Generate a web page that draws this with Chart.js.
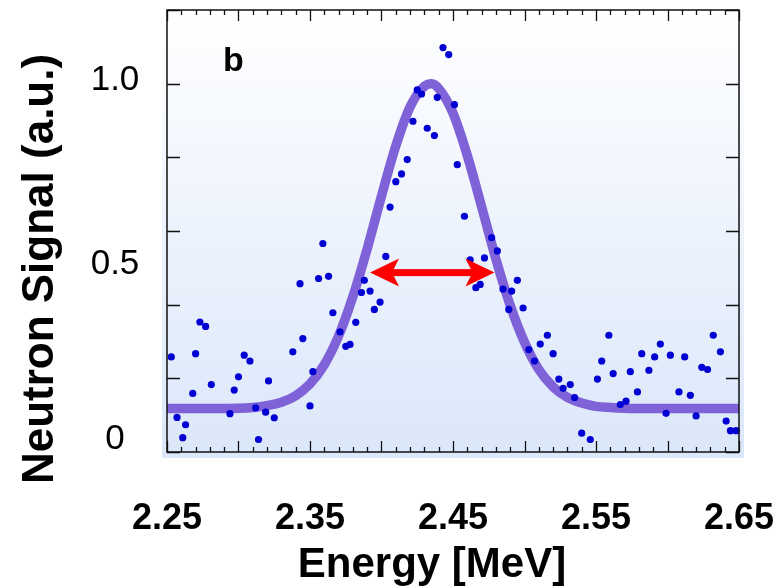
<!DOCTYPE html>
<html>
<head>
<meta charset="utf-8">
<script src="https://cdn.jsdelivr.net/npm/chart.js@4.4.1/dist/chart.umd.min.js"></script>
<style>
  body { margin: 0; background: #fff; }
  #grafica_neutrones { display: block; }
</style>
</head>
<body>
<canvas id="grafica_neutrones" width="776" height="588"></canvas>
<script>
// puntos medidos
const energia = [2.253,2.257,2.263,2.261,2.268,2.270,2.273,2.277,2.281,2.294,
  2.297,2.300,2.304,2.308,2.312,2.314,2.319,2.321,2.325,2.338,
  2.345,2.343,2.350,2.352,2.356,2.363,2.359,2.366,2.371,2.375,
  2.378,2.382,2.386,2.388,2.392,2.395,2.399,2.403,2.406,2.410,
  2.414,2.418,2.422,2.425,2.428,2.432,2.437,2.439,2.443,2.447,
  2.451,2.453,2.458,2.462,2.466,2.469,2.472,2.477,2.481,2.485,
  2.489,2.491,2.495,2.499,2.503,2.507,2.511,2.516,2.520,2.524,
  2.527,2.532,2.535,2.540,2.546,2.551,2.554,2.559,2.562,2.567,
  2.571,2.574,2.579,2.582,2.587,2.591,2.595,2.599,2.602,2.608,
  2.612,2.616,2.620,2.624,2.628,2.632,2.637,2.641,2.644,2.648];
const senal = [0.258,0.094,0.074,0.039,0.159,0.267,0.353,0.341,0.183,0.104,
  0.168,0.204,0.263,0.247,0.120,0.034,0.108,0.193,0.093,0.272,
  0.308,0.457,0.125,0.218,0.471,0.477,0.566,0.378,0.326,0.287,
  0.292,0.352,0.433,0.466,0.437,0.387,0.407,0.531,0.665,0.734,
  0.755,0.794,0.898,0.983,0.972,0.879,0.859,0.963,1.098,1.079,
  0.943,0.780,0.640,0.522,0.446,0.455,0.527,0.582,0.546,0.442,
  0.387,0.437,0.466,0.391,0.278,0.247,0.293,0.317,0.267,0.198,
  0.173,0.183,0.148,0.051,0.034,0.198,0.247,0.317,0.213,0.129,
  0.138,0.218,0.163,0.267,0.222,0.258,0.293,0.105,0.263,0.163,
  0.258,0.154,0.098,0.230,0.224,0.317,0.272,0.084,0.058,0.058];

// curva ajustada
const ajusteEnergia = [2.25,2.30,2.31,2.32,2.33,2.34,2.35,2.36,2.37,2.38,2.39,2.40,2.41,2.42,2.43,2.435,
  2.44,2.45,2.46,2.47,2.48,2.49,2.50,2.51,2.52,2.53,2.54,2.55,2.56,2.57,2.58,2.65];
const ajusteSenal = [0.118,0.119,0.121,0.126,0.135,0.153,0.185,0.237,0.315,0.422,0.552,0.695,0.831,0.937,0.993,1.0,
  0.987,0.920,0.805,0.666,0.524,0.398,0.298,0.224,0.177,0.148,0.133,0.124,0.121,0.119,0.118,0.118];

// flecha FWHM
const flechaEnergia = [2.392, 2.479];
const flechaSenal = 0.487;

const etiquetasX = [2.25, 2.35, 2.45, 2.55, 2.65];
const etiquetasY = [0, 0.5, 1.0];

const FUENTE = "'Liberation Sans', Arial, sans-serif";

const pluginDecoracion = {
  id: 'decoracion',
  beforeDatasetsDraw(chart) {
    const { ctx, chartArea: a } = chart;
    ctx.save();
    const grad = ctx.createLinearGradient(0, a.top, 0, a.bottom);
    grad.addColorStop(0, '#ffffff');
    grad.addColorStop(1, '#dbe7fa');
    ctx.fillStyle = grad;
    ctx.fillRect(a.left - 5, a.top - 5, a.right - a.left + 10, a.bottom - a.top + 11);
    ctx.restore();
  },
  afterDatasetsDraw(chart) {
    const { ctx, chartArea: a, scales: { x, y } } = chart;
    ctx.save();

    // flecha roja
    const ya = y.getPixelForValue(flechaSenal);
    const x1 = x.getPixelForValue(flechaEnergia[0]);
    const x2 = x.getPixelForValue(flechaEnergia[1]);
    ctx.fillStyle = '#ff0000';
    ctx.fillRect(x1 + 20, ya - 3.5, x2 - x1 - 40, 7);
    [[x1, 1], [x2, -1]].forEach(([xt, d]) => {
      ctx.beginPath();
      ctx.moveTo(xt, ya);
      ctx.lineTo(xt + d * 29, ya - 14);
      ctx.lineTo(xt + d * 22, ya);
      ctx.lineTo(xt + d * 29, ya + 14);
      ctx.closePath();
      ctx.fill();
    });

    // marco y marcas
    ctx.strokeStyle = '#111';
    ctx.lineWidth = 1.5;
    ctx.strokeRect(a.left, a.top, a.right - a.left, a.bottom - a.top);
    ctx.lineWidth = 1.3;
    ctx.beginPath();
    for (let i = 0; i <= 40; i++) {
      const v = 2.25 + i * 0.01;
      const px = Math.round(x.getPixelForValue(v)) + 0.5;
      const len = i % 5 === 0 ? 11 : 5;
      ctx.moveTo(px, a.bottom); ctx.lineTo(px, a.bottom - len);
      ctx.moveTo(px, a.top); ctx.lineTo(px, a.top + len);
    }
    for (let i = 0; i <= 6; i++) {
      const py = Math.round(y.getPixelForValue(i * 0.2)) + 0.5;
      ctx.moveTo(a.left, py); ctx.lineTo(a.left + 13, py);
      ctx.moveTo(a.right, py); ctx.lineTo(a.right - 13, py);
    }
    ctx.stroke();

    // etiqueta del panel
    ctx.fillStyle = '#000';
    ctx.font = 'bold 34px ' + FUENTE;
    ctx.textAlign = 'left';
    ctx.textBaseline = 'alphabetic';
    ctx.fillText('b', a.left + 56, a.top + 61);

    // etiquetas eje y
    ctx.font = '35px ' + FUENTE;
    ctx.textAlign = 'center';
    ctx.textBaseline = 'middle';
    etiquetasY.forEach(v => {
      const py = Math.min(y.getPixelForValue(v) - 3, a.bottom - 13);
      ctx.fillText(v === 0 ? '0' : v.toFixed(1), a.left - 52, py);
    });

    // titulos
    ctx.font = 'bold 44px ' + FUENTE;
    ctx.textBaseline = 'alphabetic';
    ctx.save();
    ctx.translate(a.left - 114, 269);
    ctx.rotate(-Math.PI / 2);
    ctx.fillText('Neutron Signal (a.u.)', 0, 0);
    ctx.restore();
    ctx.font = 'bold 42px ' + FUENTE;
    ctx.fillText('Energy [MeV]', 432, 577);
    ctx.restore();
  }
};

const ctx = document.getElementById('grafica_neutrones').getContext('2d');
const chartNeutrones = new Chart(ctx, {
  type: 'scatter',
  data: {
    datasets: [{
      label: 'Datos',
      data: energia.map((e, i) => ({ x: e, y: senal[i] })),
      backgroundColor: '#0000d2',
      borderWidth: 0,
      pointRadius: 3.6,
      clip: false
    }, {
      label: 'Ajuste',
      type: 'line',
      data: ajusteEnergia.map((e, i) => ({ x: e, y: ajusteSenal[i] })),
      borderColor: '#7f62d8',
      borderWidth: 9.5,
      pointRadius: 0,
      cubicInterpolationMode: 'monotone',
      borderCapStyle: 'butt',
      borderJoinStyle: 'round',
      fill: false
    }]
  },
  options: {
    responsive: false,
    animation: false,
    layout: { padding: { top: 10, right: 37, left: 0, bottom: 0 } },
    plugins: {
      legend: { display: false },
      tooltip: { enabled: false }
    },
    scales: {
      x: {
        type: 'linear',
        min: 2.25,
        max: 2.65,
        grid: { display: false },
        border: { display: false },
        afterBuildTicks: (scale) => { scale.ticks = etiquetasX.map(v => ({ value: v })); },
        afterFit: (scale) => {
          scale.height = 136;
          scale.paddingLeft = 0;
          scale.paddingRight = 0;
        },
        ticks: {
          maxRotation: 0,
          autoSkip: false,
          padding: 37,
          color: '#000',
          font: { family: FUENTE, size: 36, weight: 'bold' },
          callback: (v) => v.toFixed(2)
        }
      },
      y: {
        min: 0,
        max: 1.2,
        grid: { display: false },
        border: { display: false },
        ticks: { display: false },
        afterFit: (scale) => { scale.width = 167; }
      }
    }
  },
  plugins: [pluginDecoracion]
});
</script>
</body>
</html>
